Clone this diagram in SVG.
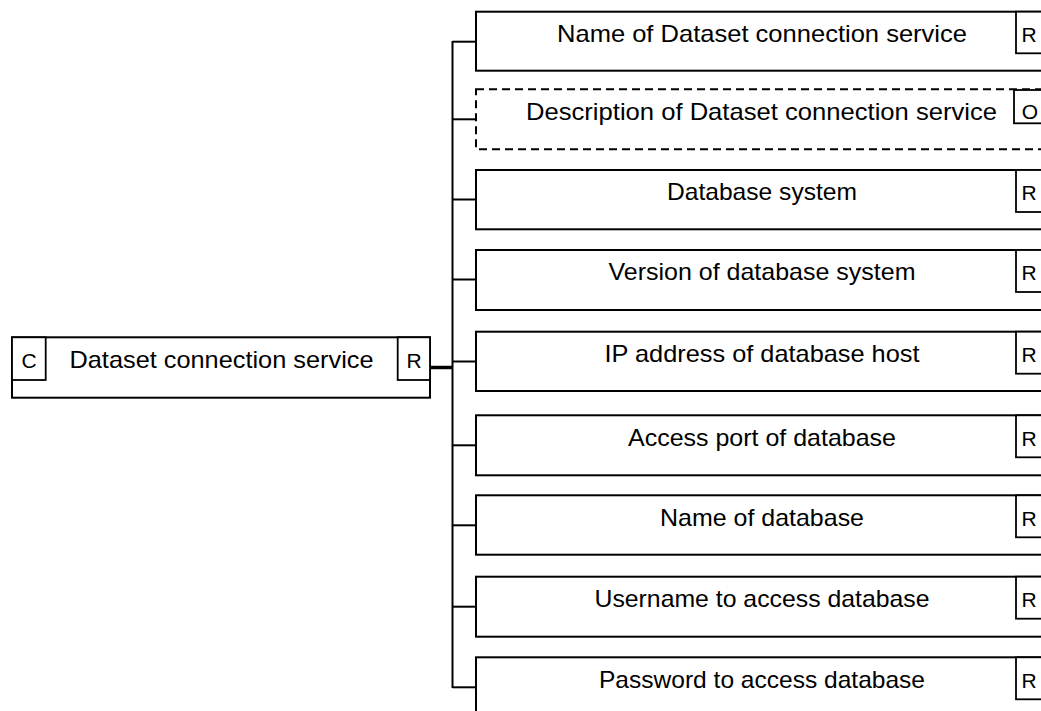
<svg xmlns="http://www.w3.org/2000/svg" width="1041" height="711" viewBox="0 0 1041 711">
<style>
.box{fill:#fff;stroke:#000;stroke-width:2}
.dash{fill:#fff;stroke:#000;stroke-width:2;stroke-dasharray:8,5}
.tag{fill:#fff;stroke:#000;stroke-width:1.8}
.lbl{font-family:"Liberation Sans",Arial,sans-serif;font-size:24px;fill:#000;text-anchor:middle}
.t{font-family:"Liberation Sans",Arial,sans-serif;font-size:21px;fill:#000;text-anchor:middle}
.ln{stroke:#000;stroke-width:2;fill:none}
</style>
<rect width="1041" height="711" fill="#fff"/>
<g id="connectors">
<line class="ln" x1="429" y1="367.5" x2="452.5" y2="367.5" style="stroke-width:3.5"/>
<line class="ln" x1="452.5" y1="41" x2="452.5" y2="688"/>
<line class="ln" x1="452.5" y1="41.7" x2="476" y2="41.7"/>
<line class="ln" x1="452.5" y1="119.3" x2="476" y2="119.3"/>
<line class="ln" x1="452.5" y1="199.5" x2="476" y2="199.5"/>
<line class="ln" x1="452.5" y1="279.5" x2="476" y2="279.5"/>
<line class="ln" x1="452.5" y1="361.5" x2="476" y2="361.5"/>
<line class="ln" x1="452.5" y1="445.3" x2="476" y2="445.3"/>
<line class="ln" x1="452.5" y1="525.3" x2="476" y2="525.3"/>
<line class="ln" x1="452.5" y1="606.7" x2="476" y2="606.7"/>
<line class="ln" x1="452.5" y1="687.3" x2="476" y2="687.3"/>
</g>
<g id="root">
<rect class="box" x="12" y="337.3" width="418" height="60.4"/>
<rect class="tag" x="12" y="337.3" width="33.7" height="42.7"/>
<rect class="tag" x="397.7" y="337.3" width="32.3" height="42.7"/>
<text class="t" x="29" y="367.5">C</text>
<text class="lbl" x="221.5" y="368" textLength="304" lengthAdjust="spacingAndGlyphs">Dataset connection service</text>
<text class="t" x="414" y="367.5">R</text>
</g>
<g id="n1">
<rect class="box" x="476" y="11.7" width="580" height="59"/>
<rect class="tag" x="1016" y="11.7" width="40" height="41.6"/>
<text class="lbl" x="762" y="42" textLength="410" lengthAdjust="spacingAndGlyphs">Name of Dataset connection service</text>
<text class="t" x="1029" y="41.5">R</text>
</g>
<g id="n2">
<rect class="dash" x="476" y="89.3" width="580" height="60"/>
<rect class="tag" x="1014" y="90" width="40" height="33.3"/>
<text class="lbl" x="761.5" y="119.5" textLength="471" lengthAdjust="spacingAndGlyphs">Description of Dataset connection service</text>
<text class="t" x="1030" y="119">O</text>
</g>
<g id="n3">
<rect class="box" x="476" y="170" width="580" height="59.3"/>
<rect class="tag" x="1016" y="170" width="40" height="42"/>
<text class="lbl" x="762" y="200" textLength="190" lengthAdjust="spacingAndGlyphs">Database system</text>
<text class="t" x="1029" y="200">R</text>
</g>
<g id="n4">
<rect class="box" x="476" y="250" width="580" height="60"/>
<rect class="tag" x="1016" y="250" width="40" height="42"/>
<text class="lbl" x="762" y="280" textLength="307" lengthAdjust="spacingAndGlyphs">Version of database system</text>
<text class="t" x="1029" y="280">R</text>
</g>
<g id="n5">
<rect class="box" x="476" y="331.7" width="580" height="59.3"/>
<rect class="tag" x="1016" y="331.7" width="40" height="42"/>
<text class="lbl" x="762" y="362" textLength="315" lengthAdjust="spacingAndGlyphs">IP address of database host</text>
<text class="t" x="1029" y="362">R</text>
</g>
<g id="n6">
<rect class="box" x="476" y="415.3" width="580" height="60"/>
<rect class="tag" x="1016" y="415.3" width="40" height="42"/>
<text class="lbl" x="762" y="445.5" textLength="268" lengthAdjust="spacingAndGlyphs">Access port of database</text>
<text class="t" x="1029" y="445.5">R</text>
</g>
<g id="n7">
<rect class="box" x="476" y="495.3" width="580" height="59.4"/>
<rect class="tag" x="1016" y="495.3" width="40" height="42"/>
<text class="lbl" x="762" y="525.5" textLength="204" lengthAdjust="spacingAndGlyphs">Name of database</text>
<text class="t" x="1029" y="525.5">R</text>
</g>
<g id="n8">
<rect class="box" x="476" y="576.7" width="580" height="60"/>
<rect class="tag" x="1016" y="576.7" width="40" height="42"/>
<text class="lbl" x="762" y="607" textLength="335" lengthAdjust="spacingAndGlyphs">Username to access database</text>
<text class="t" x="1029" y="607">R</text>
</g>
<g id="n9">
<rect class="box" x="476" y="657.3" width="580" height="60"/>
<rect class="tag" x="1016" y="657.3" width="40" height="42"/>
<text class="lbl" x="762" y="687.5" textLength="326" lengthAdjust="spacingAndGlyphs">Password to access database</text>
<text class="t" x="1029" y="687.5">R</text>
</g>
</svg>
